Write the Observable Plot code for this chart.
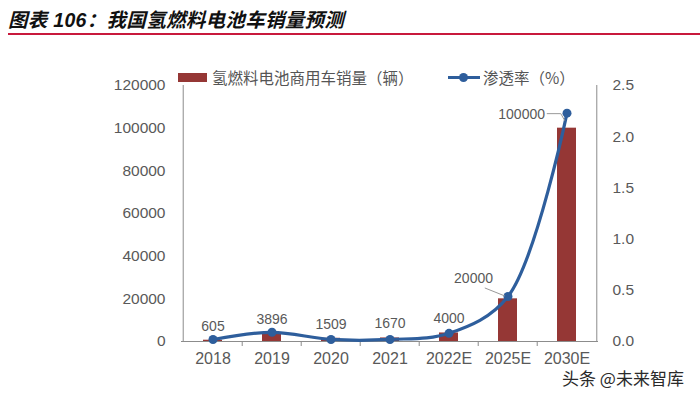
<!DOCTYPE html>
<html><head><meta charset="utf-8">
<script src="https://cdn.jsdelivr.net/npm/d3@7"></script>
<script src="https://cdn.jsdelivr.net/npm/@observablehq/plot@0.6"></script>
<style>
html,body{margin:0;padding:0;background:#fff;}
#wrap{position:relative;width:700px;height:396px;overflow:hidden;font-family:"Liberation Sans",Arial,sans-serif;}
#title{position:absolute;left:8px;top:4px;font-family:"Liberation Sans","Noto Sans CJK SC",sans-serif;font-weight:bold;font-style:italic;font-size:19.5px;letter-spacing:0.3px;color:#111;white-space:nowrap;}
#rule{position:absolute;left:8px;right:0;top:33px;height:2px;background:#c8193c;}
#chart{position:absolute;left:0;top:0;}
.leg{position:absolute;font-family:"Noto Sans CJK SC",sans-serif;font-size:15.5px;color:#555;white-space:nowrap;line-height:18px;}
#wm{position:absolute;left:562px;top:365px;font-family:"Noto Sans CJK SC",sans-serif;font-size:17px;color:#2a2a2a;white-space:nowrap;}
</style></head>
<body><div id="wrap">
<div id="title">图表 106：我国氢燃料电池车销量预测</div>
<div id="rule"></div>
<div id="chart"></div>
<div style="position:absolute;left:178px;top:73px;width:29px;height:9px;background:#953735"></div>
<div class="leg" style="left:212px;top:68px;">氢燃料电池商用车销量（辆）</div>
<div style="position:absolute;left:448px;top:76px;width:32px;height:3px;background:#2e5e9c"></div>
<div style="position:absolute;left:459px;top:73px;width:9px;height:9px;border-radius:50%;background:#2e5e9c"></div>
<div class="leg" style="left:483px;top:68px;">渗透率（%）</div>
<div id="wm">头条 @未来智库</div>
</div>
<script>
const categories = ["2018","2019","2020","2021","2022E","2025E","2030E"];
const sales = [605, 3896, 1509, 1670, 4000, 20000, 100000];
const penetration = [0.02, 0.09, 0.02, 0.02, 0.08, 0.44, 2.23];
const leftTicks = [0, 20000, 40000, 60000, 80000, 100000, 120000];
const rightTicks = [0, 0.5, 1.0, 1.5, 2.0, 2.5];

const yMax = 120000, rMax = 2.5, k = yMax / rMax;
const bars = categories.map((c, i) => ({cat: c, sales: sales[i], pen: penetration[i], penY: penetration[i] * k}));
const W = 700, H = 396, mL = 181, mR = 102, mT = 85, mB = 55;
const BW = (W - mL - mR) / categories.length;
const gray = "#8c8c8c", txt = "#595959";
const pxPerUnit = (H - mT - mB) / yMax;

const normalLabels = bars.slice(0, 5);

function leaders(index, scales) {
  const x = scales.x, y = scales.y;
  const g = d3.create("svg:g").attr("fill", "none").attr("stroke", "#999").attr("stroke-width", 1);
  const cx = c => x(c) + BW / 2;
  const a = bars[5], b = bars[6];
  let px = cx(a.cat), py = y(a.penY);
  g.append("path").attr("d", `M${px - 23},${py - 8}L${px - 3},${py}`);
  px = cx(b.cat); py = y(b.penY);
  g.append("path").attr("d", `M${px - 20},${py + 1}L${px - 6},${py + 1}L${px - 2},${py + 8}`);
  return g.node();
}

const chart = Plot.plot({
  width: W, height: H,
  marginLeft: mL, marginRight: mR, marginTop: mT, marginBottom: mB,
  style: {fontFamily: "'Liberation Sans', Arial, sans-serif", background: "transparent"},
  x: {type: "band", domain: categories, paddingInner: 0, paddingOuter: 0, label: null},
  y: {domain: [0, yMax], label: null},
  marks: [
    Plot.barY(bars, {x: "cat", y: "sales", fill: "#953735", insetLeft: 20, insetRight: 20}),
    Plot.ruleX(categories.slice(1), {x: d => d, dx: -BW / 2, y1: 0, y2: -5 / pxPerUnit, stroke: gray}),
    Plot.ruleY([0], {stroke: gray, strokeWidth: 1}),
    Plot.ruleX([categories[0]], {dx: -BW / 2, y1: 0, y2: yMax, stroke: gray}),
    Plot.ruleX([categories[6]], {dx: BW / 2, y1: 0, y2: yMax, stroke: gray}),
    Plot.axisY({ticks: leftTicks, tickSize: 0, tickPadding: 16, tickFormat: d => String(d), fontSize: 15.5, color: txt, anchor: "left"}),
    Plot.tickY(leftTicks, {y: d => d, x: categories[0], dx: -BW / 2, stroke: gray, insetLeft: 0, insetRight: BW - 5}),
    Plot.tickY(leftTicks.slice(1), {y: d => d, x: categories[6], stroke: gray, insetLeft: BW - 5, dx: BW / 2}),
    Plot.axisY({ticks: rightTicks.map(d => d * k), tickSize: 0, tickPadding: 14, tickFormat: d => (d / k).toFixed(1), fontSize: 15.5, color: txt, anchor: "right"}),
    Plot.axisX({tickSize: 0, tickPadding: 11, fontSize: 16, color: txt}),
    Plot.line(bars, {x: "cat", y: "penY", stroke: "#2e5e9c", strokeWidth: 3.2, curve: "catmull-rom"}),
    Plot.dot(bars, {x: "cat", y: "penY", r: 4.5, fill: "#2e5e9c"}),
    leaders,
    Plot.text(normalLabels, {x: "cat", y: "sales", text: d => String(d.sales), dy: -14, fontSize: 14, fill: txt}),
    Plot.text([bars[5]], {x: "cat", y: "sales", text: d => String(d.sales), dx: -15, dy: -20, textAnchor: "end", fontSize: 14, fill: txt}),
    Plot.text([bars[6]], {x: "cat", y: "penY", text: d => String(d.sales), dx: -22, dy: 1, textAnchor: "end", fontSize: 14, fill: txt})
  ]
});
document.getElementById("chart").appendChild(chart);
</script>
</body></html>
